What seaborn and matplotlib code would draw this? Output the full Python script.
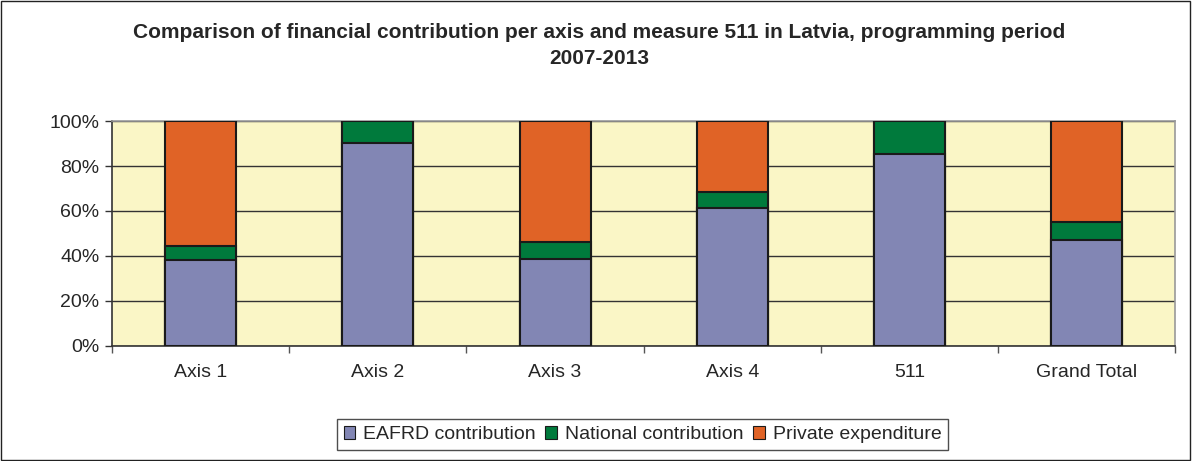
import pandas as pd
import numpy as np
import seaborn as sns
import matplotlib.pyplot as plt
from matplotlib.patches import Rectangle, Patch

sns.set_theme(style='white')
plt.rcParams['font.family'] = ['Liberation Sans', 'DejaVu Sans']

# shares of total financing, in percent
categories = ['Axis 1', 'Axis 2', 'Axis 3', 'Axis 4', '511', 'Grand Total']
eafrd = [38.2, 90.1, 38.7, 61.5, 85.2, 47.0]
national = [6.4, 9.9, 7.5, 6.8, 14.8, 8.3]
private = [55.4, 0.0, 53.8, 31.7, 0.0, 44.7]

df = pd.DataFrame({'cat': categories, 'EAFRD': eafrd, 'National': national, 'Private': private})
df['lvl1'] = df['EAFRD']
df['lvl2'] = df['EAFRD'] + df['National']
df['lvl3'] = df['lvl2'] + df['Private']

c_eafrd = '#8286B4'
c_nat = '#007A3C'
c_priv = '#E06326'

fig = plt.figure(figsize=(11.92, 4.61), dpi=100)
ax = fig.add_axes([0.094, 0.2495, 0.892, 0.488])
ax.set_facecolor('#FAF6C6')

# stacked bars drawn as cumulative layers, tallest first
for col, colour in [('lvl3', c_priv), ('lvl2', c_nat), ('lvl1', c_eafrd)]:
    sns.barplot(data=df, x='cat', y=col, color=colour, width=0.4,
                edgecolor='#1a1a1a', linewidth=1.5, saturation=1, ax=ax, zorder=3)

ax.set_ylim(0, 100)
ax.set_xlim(-0.5, len(categories) - 0.5)
ax.set_yticks(np.arange(0, 101, 20))
ax.set_yticklabels([f'{v}%' for v in range(0, 101, 20)], fontsize=14)
ax.yaxis.grid(True, color='#333333', linewidth=1, zorder=0)
ax.set_axisbelow(True)
ax.set_xlabel('')
ax.set_ylabel('')
ax.tick_params(axis='x', length=0, labelsize=14, pad=13)
ax.tick_params(axis='y', left=True, length=5, width=1, color='#333333', pad=4)
ax.set_xticks(np.arange(-0.5, len(categories)), minor=True)
ax.tick_params(axis='x', which='minor', bottom=True, length=5, width=1, color='#555555')

for s in ['left', 'bottom']:
    ax.spines[s].set_color('#333333')
    ax.spines[s].set_linewidth(1.2)
for s in ['top', 'right']:
    ax.spines[s].set_color('#999999')
    ax.spines[s].set_linewidth(1.2)

fig.text(0.503, 0.951, 'Comparison of financial contribution per axis and measure 511 in Latvia, programming period\n2007-2013',
         ha='center', va='top', fontsize=15, fontweight='bold', linespacing=1.5)

handles = [Patch(facecolor=c, edgecolor='#1a1a1a', linewidth=0.8) for c in (c_eafrd, c_nat, c_priv)]
leg = fig.legend(handles, ['EAFRD contribution', 'National contribution', 'Private expenditure'],
                 loc='center', bbox_to_anchor=(0.539, 0.057), ncol=3, fontsize=14,
                 frameon=True, fancybox=False, handlelength=0.6, handleheight=0.6,
                 handletextpad=0.4, columnspacing=0.5, borderpad=0.35)
leg.get_frame().set_edgecolor('#222222')
leg.get_frame().set_linewidth(1)

fig.patches.append(Rectangle((0.001, 0.002), 0.997, 0.995, transform=fig.transFigure,
                             fill=False, edgecolor='#222222', linewidth=1))

fig.savefig('out.png', dpi=100)
